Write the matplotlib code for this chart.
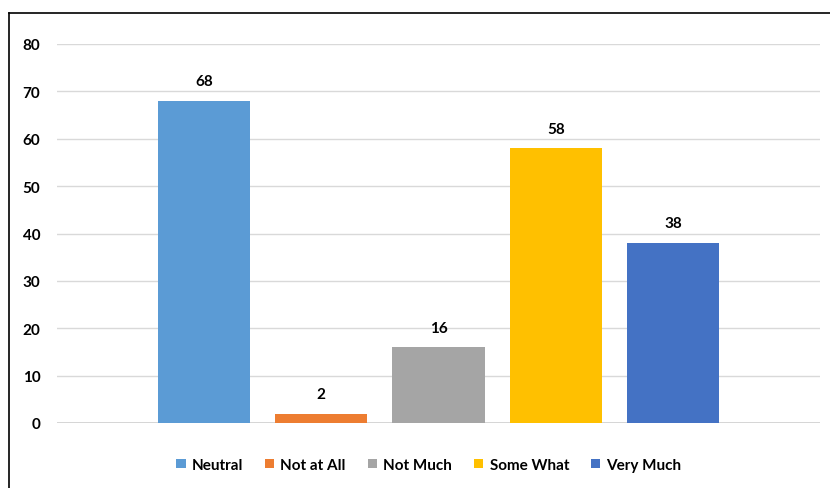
import matplotlib
matplotlib.use("Agg")
import matplotlib.pyplot as plt
from matplotlib.lines import Line2D

categories = ["Neutral", "Not at All", "Not Much", "Some What", "Very Much"]
values = [68, 2, 16, 58, 38]
colors = ["#5B9BD5", "#ED7D31", "#A5A5A5", "#FFC000", "#4472C4"]
yticks = [0, 10, 20, 30, 40, 50, 60, 70, 80]

plt.rcParams["font.family"] = ["Lato", "DejaVu Sans"]

W, H = 830, 489
fig = plt.figure(figsize=(W / 100, H / 100), dpi=100)
ax = fig.add_axes([57 / W, 1 - 424 / H, (820 - 57) / W, (424 - 45) / H])

x = list(range(len(categories)))
bars = ax.bar(x, values, width=0.785, color=colors, zorder=3)

for xi, v in zip(x, values):
    ax.annotate(str(v), (xi, v), xytext=(0, 9), textcoords="offset points",
                ha="center", va="bottom", fontsize=11, fontweight="bold",
                color="#000000")

ax.set_xlim(-1.254, 5.254)
ax.set_ylim(0, 80)
ax.set_yticks(yticks)
ax.set_yticklabels([str(t) for t in yticks], fontsize=11, fontweight="bold")
ax.set_xticks([])
ax.tick_params(axis="y", length=0, pad=12)
ax.grid(axis="y", color="#d9d9d9", linewidth=1, zorder=0)
for s in ax.spines.values():
    s.set_visible(False)
ax.axhline(0, color="#d0d0d0", linewidth=1.2, zorder=2)

leg = fig.legend(handles=bars, labels=categories, loc="center",
                 bbox_to_anchor=(429 / W, 1 - 466 / H), ncol=5, frameon=False,
                 prop={"size": 11, "weight": "bold"},
                 handlelength=0.6, handleheight=0.6,
                 handletextpad=0.4, columnspacing=1.45)

# outer frame lines
fig.add_artist(Line2D([9 / W, 1], [1 - 14 / H, 1 - 14 / H], color="black", lw=1.2,
                      transform=fig.transFigure))
fig.add_artist(Line2D([9 / W, 9 / W], [0, 1 - 14 / H], color="black", lw=1.2,
                      transform=fig.transFigure))

fig.savefig("out.png", dpi=100)
